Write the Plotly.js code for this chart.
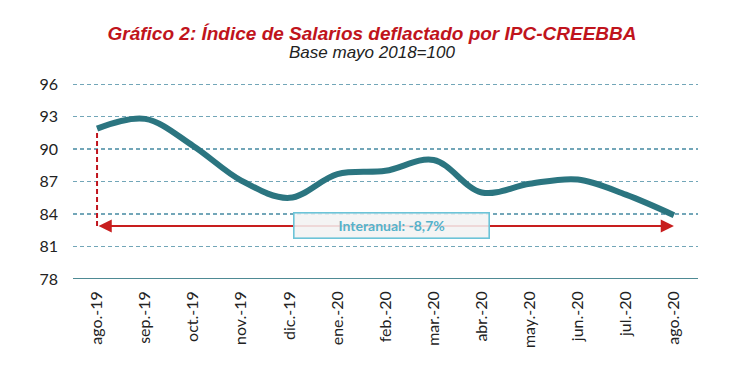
<!DOCTYPE html>
<html>
<head>
<meta charset="utf-8">
<script src="https://cdn.plot.ly/plotly-3.0.1.min.js"></script>
<style>
html,body{margin:0;padding:0;background:#fff;}
#chart{width:750px;height:384px;}
</style>
</head>
<body>
<div id="chart"></div>
<script>
const categories = ["ago.-19","sep.-19","oct.-19","nov.-19","dic.-19","ene.-20","feb.-20","mar.-20","abr.-20","may.-20","jun.-20","jul.-20","ago.-20"];
const salaryIndex = [91.9, 92.8, 90.3, 87.1, 85.5, 87.7, 88.0, 89.0, 86.0, 86.8, 87.2, 85.8, 83.9];
const yTicks = [78, 81, 84, 87, 90, 93, 96];
const arrowLevel = 82.9;
const interanualText = "Interanual: -8,7%";

const trace = {
  x: categories,
  y: salaryIndex,
  type: "scatter",
  mode: "lines",
  line: {shape: "spline", smoothing: 1.0, color: "#2b7580", width: 6},
  hoverinfo: "skip",
  showlegend: false
};

const layout = {
  width: 750, height: 384,
  margin: {l: 73, r: 52, t: 81, b: 105},
  paper_bgcolor: "#fff", plot_bgcolor: "#fff",
  title: {
    text: "<b><i>Gráfico 2: Índice de Salarios deflactado por IPC-CREEBBA</i></b>",
    font: {family: "Liberation Sans, Arial, sans-serif", size: 19, color: "#c0141c"},
    xref: "container", yref: "container",
    x: 0.496, xanchor: "center", y: 0.912, yanchor: "middle"
  },
  xaxis: {
    type: "category",
    range: [-0.5, 12.5],
    tickangle: -90,
    tickfont: {family: "Lato, sans-serif", size: 16, color: "#222"},
    showgrid: false, showline: false, zeroline: false,
    ticks: "", ticklen: 0, ticklabelstandoff: 8
  },
  yaxis: {
    range: [78, 96.3],
    tickvals: yTicks,
    ticktext: yTicks.map(String),
    tickfont: {family: "Lato, sans-serif", size: 16, color: "#222"},
    showgrid: true, gridcolor: "#72a6b8", griddash: "4px,3px", gridwidth: 1.4,
    zeroline: false, showline: false, ticks: "", ticklabelstandoff: 14
  },
  shapes: [
    {type: "line", xref: "paper", yref: "y", x0: 0, x1: 1, y0: 78, y1: 78,
     line: {color: "#4e8a94", width: 2}},
    {type: "line", xref: "x", yref: "y", x0: 0, x1: 0, y0: arrowLevel, y1: salaryIndex[0] - 0.3,
     line: {color: "#c0141c", width: 2, dash: "5px,3px"}}
  ],
  annotations: [
    {xref: "paper", yref: "paper", x: 0.478, y: (279 - 52) / 198, yanchor: "middle",
     text: "<i>Base mayo 2018=100</i>", showarrow: false,
     font: {family: "Liberation Sans, Arial, sans-serif", size: 17, color: "#222"}},
    {xref: "x", yref: "y", axref: "x", ayref: "y",
     x: 12, y: arrowLevel, ax: 0, ay: arrowLevel,
     text: "", showarrow: true, arrowhead: 2, startarrowhead: 2,
     arrowside: "end+start", arrowsize: 1.2, startarrowsize: 1.2,
     arrowwidth: 2.2, arrowcolor: "#c81e1e"},
    {xref: "x", yref: "y", x: 6.13, y: arrowLevel,
     text: "<b>" + interanualText + "</b>", showarrow: false,
     font: {family: "Lato, sans-serif", size: 14, color: "#56b2ca"},
     bgcolor: "rgba(242,242,242,0.88)", bordercolor: "#6cc4d8", borderwidth: 1.6,
     width: 192, height: 22, borderpad: 1}
  ]
};

Plotly.newPlot("chart", [trace], layout, {displayModeBar: false, staticPlot: true});
</script>
</body>
</html>
